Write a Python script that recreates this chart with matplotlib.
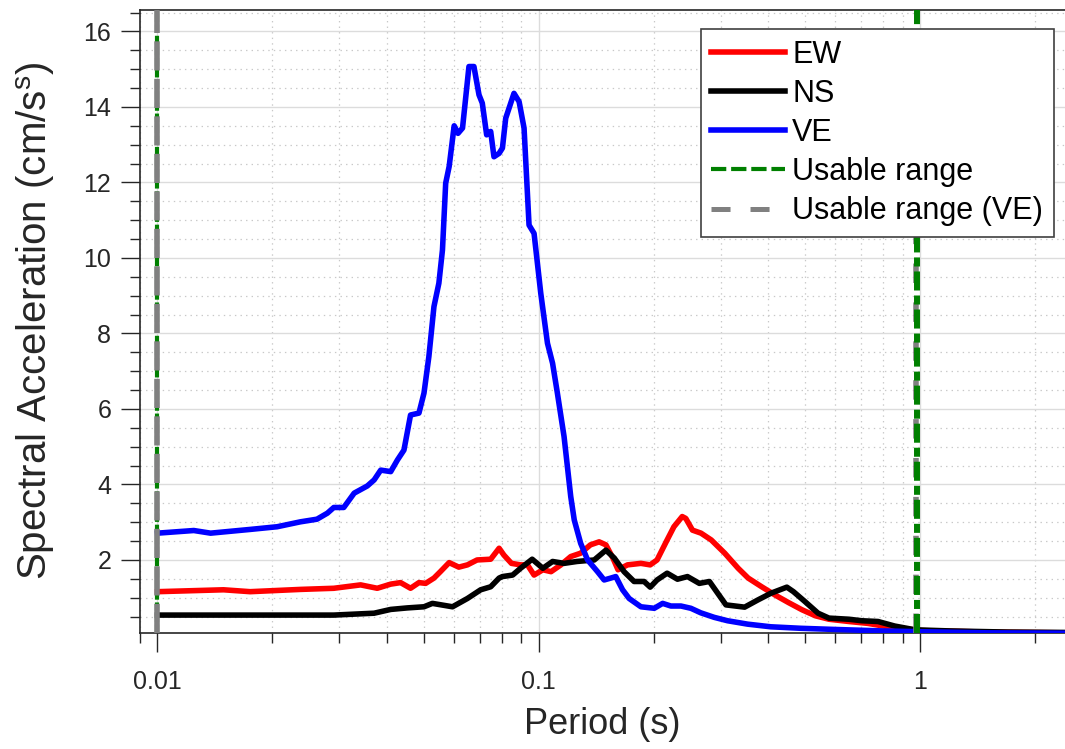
import matplotlib
matplotlib.use("Agg")
import matplotlib.pyplot as plt
from matplotlib.lines import Line2D
from matplotlib.ticker import FixedLocator, LogLocator, NullFormatter, FuncFormatter

plt.rcParams['font.family'] = ['Liberation Sans', 'DejaVu Sans']
plt.rcParams['mathtext.default'] = 'regular'
plt.rcParams['lines.scale_dashes'] = False

# Spectral acceleration
period_ew = [0.01, 0.0149, 0.0175, 0.0237, 0.029, 0.0341, 0.0377, 0.0409, 0.0434, 0.0461,
             0.0485, 0.0505, 0.0531, 0.0552, 0.0582, 0.0617, 0.065, 0.0689, 0.0748, 0.0787,
             0.081, 0.0848, 0.0896, 0.0934, 0.0972, 0.1025, 0.1077, 0.1143, 0.1213, 0.1288,
             0.1366, 0.144, 0.15, 0.1565, 0.1614, 0.1709, 0.1853, 0.196, 0.2043, 0.2171,
             0.2262, 0.2378, 0.243, 0.253, 0.2664, 0.2834, 0.3074, 0.3334, 0.3542, 0.3843,
             0.4168, 0.4521, 0.4904, 0.532, 0.577, 0.651, 0.73, 0.823, 0.889, 1.0, 1.5, 2.4]
sa_ew = [1.16, 1.21, 1.16, 1.22, 1.25, 1.34, 1.25, 1.36, 1.40, 1.25,
         1.40, 1.38, 1.52, 1.69, 1.93, 1.81, 1.87, 2.0, 2.02, 2.31,
         2.13, 1.91, 1.87, 1.87, 1.60, 1.74, 1.69, 1.87, 2.09, 2.18,
         2.40, 2.48, 2.40, 2.05, 1.74, 1.87, 1.91, 1.87, 2.0, 2.53,
         2.88, 3.15, 3.10, 2.79, 2.71, 2.53, 2.18, 1.78, 1.52, 1.29,
         1.07, 0.87, 0.68, 0.52, 0.43, 0.37, 0.32, 0.23, 0.19, 0.13, 0.09, 0.07]

period_ns = [0.01, 0.0143, 0.0194, 0.029, 0.037, 0.0409, 0.0452, 0.05, 0.0526, 0.0594,
             0.065, 0.0704, 0.0748, 0.0787, 0.0803, 0.0854, 0.0896, 0.0961, 0.1025, 0.1087,
             0.1165, 0.1259, 0.1398, 0.15, 0.1578, 0.1674, 0.1778, 0.1889, 0.196, 0.2043,
             0.2171, 0.2311, 0.2455, 0.2637, 0.2803, 0.2946, 0.3097, 0.3467, 0.3754, 0.4066,
             0.4474, 0.4656, 0.4988, 0.5402, 0.577, 0.651, 0.704, 0.776, 0.858, 0.97,
             1.2, 1.7, 2.4]
sa_ns = [0.54, 0.54, 0.54, 0.54, 0.59, 0.69, 0.73, 0.76, 0.85, 0.76,
         0.98, 1.21, 1.29, 1.52, 1.56, 1.60, 1.78, 2.02, 1.78, 1.96,
         1.91, 1.96, 2.0, 2.26, 2.05, 1.69, 1.43, 1.43, 1.28, 1.47,
         1.65, 1.49, 1.56, 1.38, 1.43, 1.12, 0.81, 0.75, 0.94, 1.12,
         1.28, 1.16, 0.90, 0.59, 0.46, 0.43, 0.39, 0.37, 0.25, 0.15,
         0.12, 0.09, 0.08]

period_ve = [0.01, 0.01245, 0.01378, 0.01754, 0.0206, 0.0237, 0.0262, 0.0279, 0.029, 0.0308,
             0.0328, 0.0355, 0.037, 0.0385, 0.0409, 0.0426, 0.0443, 0.0461, 0.0485, 0.05,
             0.0515, 0.0531, 0.0547, 0.0559, 0.057, 0.0582, 0.06, 0.0614, 0.0631, 0.0656,
             0.0676, 0.0697, 0.0711, 0.073, 0.0748, 0.0763, 0.0787, 0.0803, 0.0819, 0.0861,
             0.0888, 0.0915, 0.0943, 0.0972, 0.1012, 0.1054, 0.1087, 0.1119, 0.1165, 0.1213,
             0.1239, 0.1288, 0.1343, 0.1426, 0.1484, 0.1545, 0.1592, 0.1659, 0.1726, 0.1853,
             0.2009, 0.2113, 0.2221, 0.236, 0.2506, 0.266, 0.2885, 0.3127, 0.353, 0.406,
             0.487, 0.596, 0.8, 1.0, 1.5, 2.4]
sa_ve = [2.71, 2.78, 2.71, 2.81, 2.88, 3.01, 3.08, 3.24, 3.39, 3.39,
         3.77, 3.96, 4.12, 4.38, 4.34, 4.65, 4.91, 5.84, 5.89, 6.42,
         7.39, 8.71, 9.33, 10.21, 11.98, 12.42, 13.50, 13.30, 13.44, 15.07,
         15.07, 14.32, 14.10, 13.26, 13.35, 12.68, 12.77, 12.91, 13.70, 14.36,
         14.14, 13.44, 10.87, 10.65, 9.07, 7.74, 7.21, 6.42, 5.27, 3.68,
         3.06, 2.44, 2.0, 1.69, 1.47, 1.52, 1.56, 1.21, 0.98, 0.76,
         0.72, 0.85, 0.78, 0.78, 0.72, 0.60, 0.48, 0.39, 0.30, 0.23,
         0.19, 0.16, 0.12, 0.10, 0.07, 0.06]

usable = [0.01, 0.98]
usable_ve = [0.01, 0.978]

fig = plt.figure(figsize=(10.65, 7.49), dpi=100)
ax = fig.add_axes([0.1315, 0.1549, 0.8685, 0.8324])

ax.plot(period_ew, sa_ew, color='red', lw=4, zorder=3)
ax.plot(period_ns, sa_ns, color='black', lw=4, zorder=3)
ax.plot(period_ve, sa_ve, color='blue', lw=4, zorder=3)

# usable range markers (left: grey over green, right: green over grey)
ax.axvline(usable[0], color='green', lw=3.0, ls=(0, (6, 2)), zorder=4)
ax.axvline(usable_ve[0], color='grey', lw=4.0, ls=(0, (21, 6)), zorder=5)
ax.axvline(usable_ve[1], color='grey', lw=4.0, ls=(0, (14, 14)), zorder=4)
ax.axvline(usable[1], color='green', lw=4.3, ls=(0, (13.7, 3.6, 6.5, 3.6)), zorder=5)

ax.set_xscale('log')
ax.set_xlim(0.009, 2.4)
ax.set_ylim(0.066, 16.58)

ax.xaxis.set_major_locator(FixedLocator([0.01, 0.1, 1]))
ax.xaxis.set_major_formatter(FuncFormatter(lambda v, p: f'{v:g}'))
ax.xaxis.set_minor_locator(LogLocator(base=10, subs=range(2, 10), numticks=20))
ax.xaxis.set_minor_formatter(NullFormatter())
ax.yaxis.set_major_locator(FixedLocator(range(2, 17, 2)))
ax.yaxis.set_minor_locator(FixedLocator([v / 2 for v in range(1, 34)]))

ax.grid(which='major', color='#dcdcdc', lw=1.0, ls='-')
ax.grid(which='minor', color='#c8c8c8', lw=0.9, ls=(0, (1, 3)))
ax.set_axisbelow(True)

ax.tick_params(which='major', direction='out', length=13.7, width=1.0,
               labelsize=18, colors='#262626', pad=7)
ax.tick_params(which='minor', direction='out', length=7.2, width=1.0, colors='#262626')
ax.tick_params(axis='x', which='major', pad=13)
ax.spines['right'].set_visible(False)
for s in ['left', 'bottom', 'top']:
    ax.spines[s].set_color('#262626')
    ax.spines[s].set_linewidth(1.2)

ax.set_xlabel('Period (s)', fontsize=26, color='#262626')
ax.set_ylabel('Spectral Acceleration (cm/s$^{s}$)', fontsize=29, color='#262626')
ax.xaxis.set_label_coords(0.5, -0.118)
ax.yaxis.set_label_coords(-0.09, 0.5)

handles = [
    Line2D([], [], color='red', lw=4),
    Line2D([], [], color='black', lw=4),
    Line2D([], [], color='blue', lw=4),
    Line2D([], [], color='green', lw=3.0, ls=(0, (11, 3.5))),
    Line2D([], [], color='grey', lw=3.6, ls=(0, (13.7, 14.4))),
]
labels = ['EW', 'NS', 'VE', 'Usable range', 'Usable range (VE)']
leg = ax.legend(handles, labels, loc='upper right', bbox_to_anchor=(0.988, 0.969),
                borderaxespad=0, fontsize=22, frameon=True, fancybox=False,
                handlelength=2.4, handletextpad=0.25, labelspacing=0.3, borderpad=0.35)
leg.get_frame().set_edgecolor('#404040')
leg.get_frame().set_linewidth(1.2)
leg.get_frame().set_alpha(1)
leg.set_zorder(10)

fig.savefig('out.png', dpi=100)
